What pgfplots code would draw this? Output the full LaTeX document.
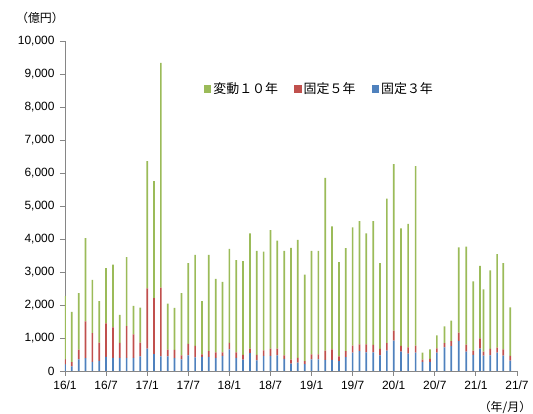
\documentclass[border=0pt]{standalone}
\usepackage{pgfplots}
\usepackage{pgfplotstable}
\pgfplotsset{compat=1.18}
\usepackage{fontspec}
\setmainfont{Liberation Sans}
\newfontfamily\jp{Noto Sans CJK JP}
\definecolor{cgreen}{HTML}{9BBB59}
\definecolor{cred}{HTML}{C0504D}
\definecolor{cblue}{HTML}{4F81BD}
\definecolor{axgray}{HTML}{868686}
\pgfplotstableread{
x b r g
0 200 150 1920
1 140 130 1520
2 350 300 1710
3 390 1110 2530
4 280 870 1610
5 310 550 1260
6 430 1010 1680
7 400 920 1900
8 400 450 850
9 400 960 2090
10 400 710 860
11 440 420 1060
12 680 1820 3860
13 515 1695 3540
14 445 2080 6815
15 445 205 1390
16 390 250 1270
17 350 125 1885
18 475 345 2450
19 415 345 2760
20 425 75 1620
21 425 175 2920
22 400 165 2225
23 455 110 2135
24 655 195 2850
25 400 165 2795
26 345 140 2845
27 545 130 3495
28 320 165 3155
29 455 170 2995
30 455 220 3595
31 475 200 3275
32 365 110 3165
33 220 125 3385
34 250 150 3570
35 210 90 2620
36 350 155 3135
37 350 155 3135
38 335 280 5235
39 335 320 3725
40 300 145 2855
41 424 182 3114
42 555 213 3582
43 606 202 3737
44 566 242 3362
45 566 222 3757
46 475 192 2603
47 616 232 4372
48 919 303 5048
49.07 586 172 3562
50.1 525 192 3743
51.2 555 213 5442
52.2 273 70 212
53.3 273 91 293
54.3 555 132 393
55.4 717 131 505
56.4 757 152 616
57.5 909 252 2586
58.6 586 212 2969
59.6 485 131 2101
60.6 677 313 2192
61.1 465 121 1889
62.1 475 192 2383
63.1 555 152 2838
64.0 465 192 2615
65.0 313 142 1474
}\data
\begin{document}
\begin{tikzpicture}
\path[use as bounding box] (-65bp,-43bp) rectangle (468bp,371bp);
\begin{axis}[
  scale only axis,
  width=452bp, height=330bp,
  ybar stacked,
  bar width=1.7bp,
  xmin=0, xmax=66,
  ymin=0, ymax=10000,
  axis x line*=bottom,
  axis y line*=left,
  axis line style={axgray, line width=0.9bp},
  every tick/.style={axgray, line width=0.9bp},
  tick align=outside,
  major tick length=5bp,
  xtick={0,6,...,66},
  xticklabels={16/1,16/7,17/1,17/7,18/1,18/7,19/1,19/7,20/1,20/7,21/1,21/7},
  ytick={0,1000,...,10000},
  scaled y ticks=false,
  /pgf/number format/.cd, 1000 sep={,}, assume math mode=true,
  /pgfplots/.cd,
  tick label style={font=\fontsize{12}{14}\selectfont},
  yticklabel style={xshift=-2bp},
  xticklabel style={yshift=-1bp},
  legend style={draw=none, fill=none, at={(0.3,0.855)}, anchor=west,
    legend columns=3, font=\jp\fontsize{13}{15}\selectfont,
    /tikz/every even column/.append style={column sep=14bp}},
  legend image code/.code={\fill[#1] (0bp,-3.8bp) rectangle (7.6bp,3.8bp);},
  reverse legend,
]
\addplot[fill=cblue, draw=none] table[x=x, y=b] {\data};
\addplot[fill=cred, draw=none] table[x=x, y=r] {\data};
\addplot[fill=cgreen, draw=none] table[x=x, y=g] {\data};
\legend{固定３年,固定５年,変動１０年}
\end{axis}
\node[font=\jp\fontsize{12}{14}\selectfont] at (-25bp,353bp) {（億円）};
\node[font=\jp\fontsize{12}{14}\selectfont] at (440bp,-36bp) {（年/月）};
\end{tikzpicture}
\end{document}
